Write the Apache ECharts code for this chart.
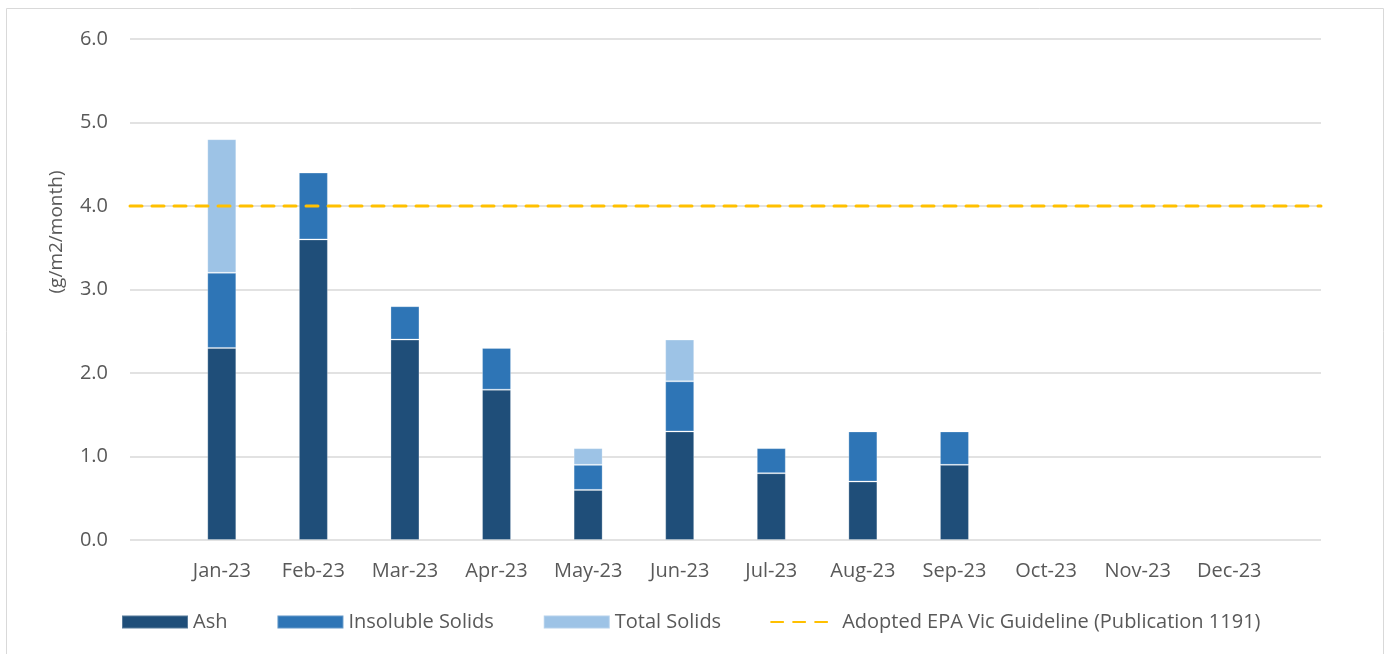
<!DOCTYPE html>
<html>
<head>
<meta charset="utf-8">
<script src="https://cdn.jsdelivr.net/npm/echarts@6/dist/echarts.min.js"></script>
<style>html,body{margin:0;padding:0;background:#fff}#c{width:1389px;height:654px}</style>
</head>
<body>
<div id="c"></div>
<script>
const categories = ['Jan-23','Feb-23','Mar-23','Apr-23','May-23','Jun-23','Jul-23','Aug-23','Sep-23','Oct-23','Nov-23','Dec-23'];
const ash = [2.3, 3.6, 2.4, 1.8, 0.6, 1.3, 0.8, 0.7, 0.9, null, null, null];
const insolubleSolids = [0.9, 0.8, 0.4, 0.5, 0.3, 0.6, 0.3, 0.6, 0.4, null, null, null];
const totalSolids = [1.6, null, null, null, 0.2, 0.5, null, null, null, null, null, null];
const guideline = 4.0;
const yTicks = [0, 1, 2, 3, 4, 5, 6];

const FONT = 'Open Sans';
const TXT = '#595959';
const FS = 20;
const chart = echarts.init(document.getElementById('c'));
chart.setOption({
  animation: false,
  textStyle: { fontFamily: FONT, color: TXT },
  graphic: [
    { type: 'rect', shape: { x: 6.5, y: 8.5, width: 1377, height: 660 }, style: { fill: 'none', stroke: '#D9D9D9', lineWidth: 1 }, silent: true, z: -10 },
    { type: 'text', x: 57, y: 232, rotation: Math.PI / 2, style: { text: '(g/m2/month)', fill: TXT, font: '19px "Open Sans"', align: 'center', verticalAlign: 'middle' } }
  ],
  grid: [
    { left: 130, right: 68, top: 39, bottom: 114 },
    { left: 176, right: 114, top: 39, bottom: 114 }
  ],
  legend: {
    left: 116, top: 607,
    itemWidth: 66, itemHeight: 13, itemGap: 49,
    textStyle: { fontFamily: FONT, fontSize: FS, color: TXT },
    data: [
      { name: 'Ash', icon: 'rect' },
      { name: 'Insoluble Solids', icon: 'rect' },
      { name: 'Total Solids', icon: 'rect' },
      { name: 'Adopted EPA Vic Guideline (Publication 1191)', itemStyle: { opacity: 0 } }]
  },
  xAxis: [
    { type: 'value', gridIndex: 0, min: 0, max: 1, show: false },
    { type: 'category', gridIndex: 1, data: categories, axisLine: { show: false }, axisTick: { show: false },
      axisLabel: { fontFamily: FONT, fontSize: FS, color: TXT, margin: 21 } }
  ],
  yAxis: [
    { type: 'value', gridIndex: 0, min: yTicks[0], max: yTicks[yTicks.length - 1], interval: 1,
      axisLine: { show: false }, axisTick: { show: false },
      axisLabel: { fontFamily: FONT, fontSize: FS, color: TXT, margin: 22, formatter: v => v.toFixed(1) },
      splitLine: { lineStyle: { color: '#D9D9D9', width: 1.5 } } },
    { type: 'value', gridIndex: 1, min: 0, max: 6, interval: 1, show: false, splitLine: { show: false } }
  ],
  series: [
    { name: 'Ash', type: 'bar', stack: 's', xAxisIndex: 1, yAxisIndex: 1, data: ash, barWidth: 29,
      itemStyle: { color: '#1F4E79', borderColor: 'rgba(255,255,255,0.25)', borderWidth: 1 } },
    { name: 'Insoluble Solids', type: 'bar', stack: 's', xAxisIndex: 1, yAxisIndex: 1, data: insolubleSolids, barWidth: 29,
      itemStyle: { color: '#2E75B6', borderColor: 'rgba(255,255,255,0.25)', borderWidth: 1 } },
    { name: 'Total Solids', type: 'bar', stack: 's', xAxisIndex: 1, yAxisIndex: 1, data: totalSolids, barWidth: 29,
      itemStyle: { color: '#9DC3E6', borderColor: 'rgba(255,255,255,0.25)', borderWidth: 1 } },
    { name: 'Adopted EPA Vic Guideline (Publication 1191)', type: 'line', xAxisIndex: 0, yAxisIndex: 0,
      data: [[0, guideline], [1, guideline]], symbol: 'none', z: 5,
      lineStyle: { color: '#FFC000', width: 3, type: [12, 10], cap: 'round' },
      itemStyle: { color: '#FFC000' } }
  ]
});
</script>
</body>
</html>
